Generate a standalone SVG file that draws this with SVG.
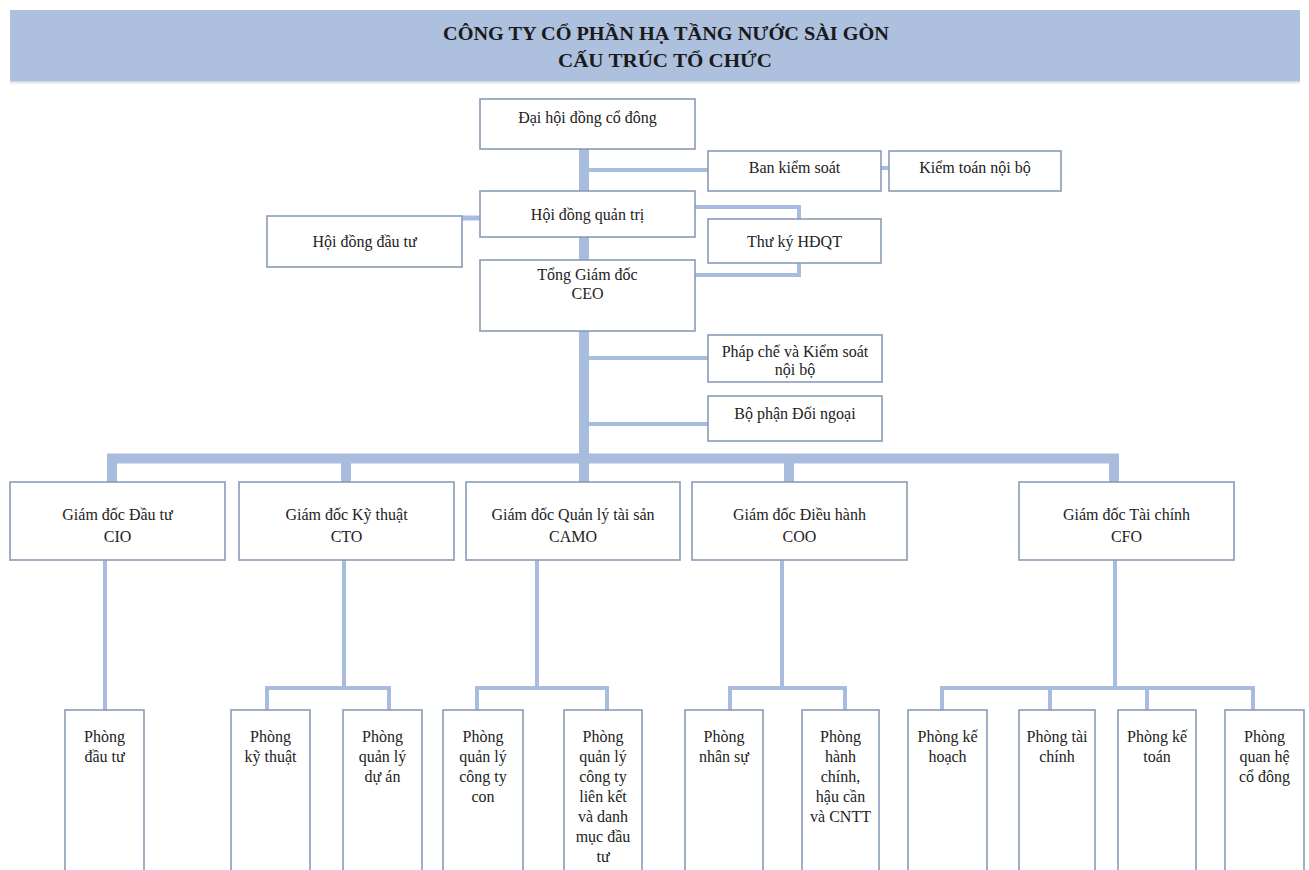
<svg xmlns="http://www.w3.org/2000/svg" width="1309" height="870" viewBox="0 0 1309 870">
<defs>
<linearGradient id="hdrShadow" x1="0" y1="0" x2="0" y2="1">
<stop offset="0" stop-color="#9aaac4" stop-opacity="0.8"/>
<stop offset="1" stop-color="#ffffff" stop-opacity="0"/>
</linearGradient>
<style>
.box{fill:#ffffff;stroke:#8a9bb8;stroke-width:1.6}
.t{font-family:"Liberation Serif","Times New Roman",serif;font-size:16px;fill:#222;text-anchor:middle}
.ttl{font-family:"Liberation Serif","Times New Roman",serif;font-size:18px;font-weight:bold;fill:#1a1a1a;text-anchor:middle}
.c{stroke:#a8bddd;fill:none;stroke-linecap:butt;stroke-linejoin:miter}
.thick{stroke-width:10}
.mid{stroke-width:5}
.thin{stroke-width:4}
</style>
</defs>
<rect width="1309" height="870" fill="#ffffff"/>
<g id="header">
<rect x="10" y="80" width="1290" height="6" fill="url(#hdrShadow)"/>
<rect x="10" y="10" width="1290" height="71" fill="#adc0de"/>
<text class="ttl" x="666" y="40" textLength="446" lengthAdjust="spacingAndGlyphs">CÔNG TY CỔ PHẦN HẠ TẦNG NƯỚC SÀI GÒN</text>
<text class="ttl" x="665" y="67" textLength="214" lengthAdjust="spacingAndGlyphs">CẤU TRÚC TỔ CHỨC</text>
</g>
<g id="connectors">
<path class="c thick" d="M584 149 V482"/>
<path class="c thick" d="M107 458.5 H1119"/>
<path class="c thick" d="M112 458 V482 M346 458 V482 M789 458 V482 M1114 458 V482"/>
<path class="c thin" d="M589 170 H708"/>
<path class="c thin" d="M881 168 H889"/>
<path class="c mid" d="M462 218 H480"/>
<path class="c thin" d="M695 207 H799 V219 M695 275 H799 V263"/>
<path class="c thin" d="M589 358 H708 M589 424 H708"/>
<path class="c thin" d="M105 560 V710"/>
<path class="c thin" d="M344 560 V688 M267 710 V688 H389 V710"/>
<path class="c thin" d="M537 560 V688 M477 710 V688 H607 V710"/>
<path class="c thin" d="M782 560 V688 M730 710 V688 H845 V710"/>
<path class="c thin" d="M1115 560 V688 M942 710 V688 H1253 V710 M1050 688 V710 M1147 688 V710"/>
</g>
<g id="dhdcd"><rect class="box" x="480" y="99" width="215" height="50"/><text class="t" x="587.5" y="123">Đại hội đồng cổ đông</text></g>
<g id="bks"><rect class="box" x="708" y="151" width="173" height="40"/><text class="t" x="794.5" y="173">Ban kiểm soát</text></g>
<g id="ktnb"><rect class="box" x="889" y="151" width="172" height="40"/><text class="t" x="975" y="173">Kiểm toán nội bộ</text></g>
<g id="hdqt"><rect class="box" x="480" y="191" width="215" height="46"/><text class="t" x="587.5" y="220">Hội đồng quản trị</text></g>
<g id="hddt"><rect class="box" x="267" y="216" width="195" height="51"/><text class="t" x="364.5" y="247">Hội đồng đầu tư</text></g>
<g id="tk"><rect class="box" x="708" y="219" width="173" height="44"/><text class="t" x="794.5" y="247">Thư ký HĐQT</text></g>
<g id="ceo"><rect class="box" x="480" y="260" width="215" height="71"/><text class="t" x="587.5" y="280">Tổng Giám đốc</text><text class="t" x="587.5" y="299">CEO</text></g>
<g id="phapche"><rect class="box" x="708" y="335" width="174" height="47"/><text class="t" x="795" y="357">Pháp chế và Kiểm soát</text><text class="t" x="795" y="375">nội bộ</text></g>
<g id="doingoai"><rect class="box" x="708" y="396" width="174" height="45"/><text class="t" x="795" y="419">Bộ phận Đối ngoại</text></g>
<g id="cio"><rect class="box" x="10" y="482" width="215" height="78"/><text class="t" x="117.5" y="520">Giám đốc Đầu tư</text><text class="t" x="117.5" y="542">CIO</text></g>
<g id="cto"><rect class="box" x="239" y="482" width="215" height="78"/><text class="t" x="346.5" y="520">Giám đốc Kỹ thuật</text><text class="t" x="346.5" y="542">CTO</text></g>
<g id="camo"><rect class="box" x="466" y="482" width="214" height="78"/><text class="t" x="573" y="520">Giám đốc Quản lý tài sản</text><text class="t" x="573" y="542">CAMO</text></g>
<g id="coo"><rect class="box" x="692" y="482" width="215" height="78"/><text class="t" x="799.5" y="520">Giám đốc Điều hành</text><text class="t" x="799.5" y="542">COO</text></g>
<g id="cfo"><rect class="box" x="1019" y="482" width="215" height="78"/><text class="t" x="1126.5" y="520">Giám đốc Tài chính</text><text class="t" x="1126.5" y="542">CFO</text></g>
<g id="p-dautu"><rect class="box" x="65" y="710" width="79" height="175"/><text class="t" x="104.5" y="742">Phòng</text><text class="t" x="104.5" y="762">đầu tư</text></g>
<g id="p-kythuat"><rect class="box" x="231" y="710" width="79" height="175"/><text class="t" x="270.5" y="742">Phòng</text><text class="t" x="270.5" y="762">kỹ thuật</text></g>
<g id="p-duan"><rect class="box" x="343" y="710" width="79" height="175"/><text class="t" x="382.5" y="742">Phòng</text><text class="t" x="382.5" y="762">quản lý</text><text class="t" x="382.5" y="782">dự án</text></g>
<g id="p-ctcon"><rect class="box" x="443" y="710" width="80" height="175"/><text class="t" x="483" y="742">Phòng</text><text class="t" x="483" y="762">quản lý</text><text class="t" x="483" y="782">công ty</text><text class="t" x="483" y="802">con</text></g>
<g id="p-lienket"><rect class="box" x="564" y="710" width="78" height="175"/><text class="t" x="603" y="742">Phòng</text><text class="t" x="603" y="762">quản lý</text><text class="t" x="603" y="782">công ty</text><text class="t" x="603" y="802">liên kết</text><text class="t" x="603" y="822">và danh</text><text class="t" x="603" y="842">mục đầu</text><text class="t" x="603" y="862">tư</text></g>
<g id="p-nhansu"><rect class="box" x="685" y="710" width="78" height="175"/><text class="t" x="724" y="742">Phòng</text><text class="t" x="724" y="762">nhân sự</text></g>
<g id="p-hanhchinh"><rect class="box" x="802" y="710" width="77" height="175"/><text class="t" x="840.5" y="742">Phòng</text><text class="t" x="840.5" y="762">hành</text><text class="t" x="840.5" y="782">chính,</text><text class="t" x="840.5" y="802">hậu cần</text><text class="t" x="840.5" y="822">và CNTT</text></g>
<g id="p-kehoach"><rect class="box" x="908" y="710" width="79" height="175"/><text class="t" x="947.5" y="742">Phòng kế</text><text class="t" x="947.5" y="762">hoạch</text></g>
<g id="p-taichinh"><rect class="box" x="1019" y="710" width="76" height="175"/><text class="t" x="1057" y="742">Phòng tài</text><text class="t" x="1057" y="762">chính</text></g>
<g id="p-ketoan"><rect class="box" x="1118" y="710" width="78" height="175"/><text class="t" x="1157" y="742">Phòng kế</text><text class="t" x="1157" y="762">toán</text></g>
<g id="p-codong"><rect class="box" x="1225" y="710" width="79" height="175"/><text class="t" x="1264.5" y="742">Phòng</text><text class="t" x="1264.5" y="762">quan hệ</text><text class="t" x="1264.5" y="782">cổ đông</text></g>
</svg>
